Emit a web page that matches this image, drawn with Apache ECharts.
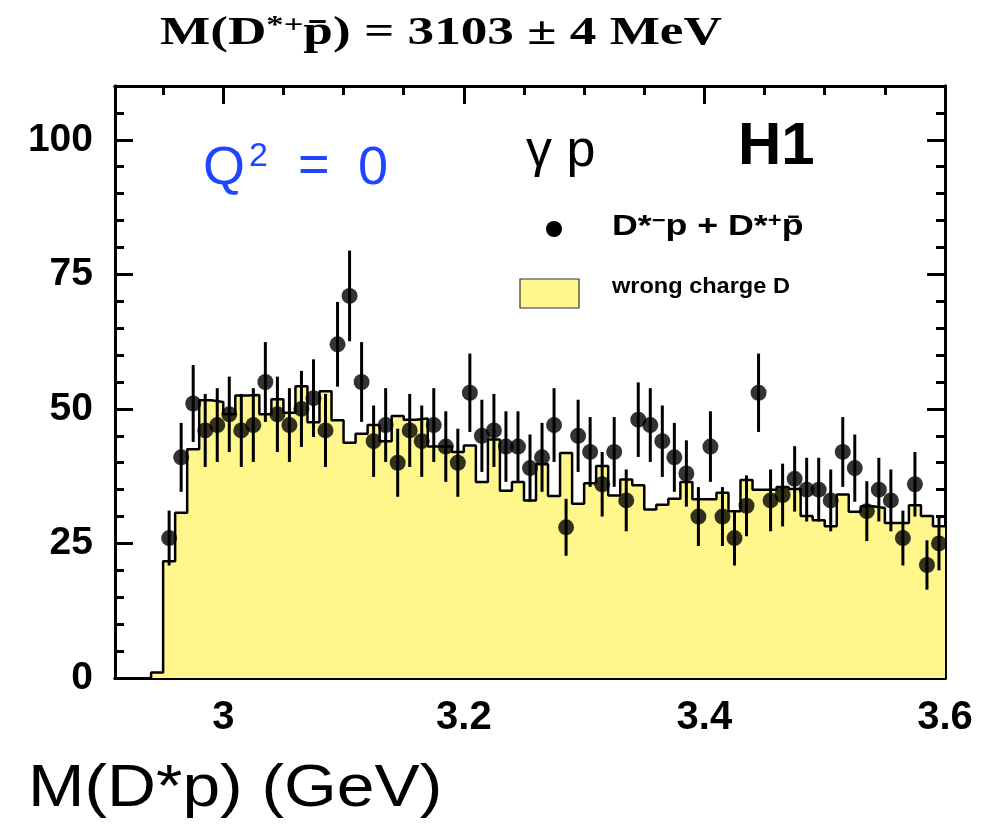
<!DOCTYPE html>
<html>
<head>
<meta charset="utf-8">
<script src="https://cdn.jsdelivr.net/npm/echarts@6/dist/echarts.min.js"></script>
<style>
  html, body { margin: 0; padding: 0; background: #ffffff; }
  #chart { width: 981px; height: 828px; }
</style>
</head>
<body>
<div id="chart"></div>
<script>
// Binning (GeV): 10 MeV bins
const BIN_WIDTH = 0.01;
const SIGNAL_FIRST_LOW_EDGE = 2.95;
const BKG_FIRST_LOW_EDGE = 2.94;

// D*-p + D*+pbar candidates per bin
const signalCounts = [
  26, 41, 51, 46, 47, 49, 46, 47, 55, 49,
  47, 50, 52, 46, 62, 71, 55, 44, 47, 40,
  46, 44, 47, 43, 40, 53, 45, 46, 43, 43,
  39, 41, 47, 28, 45, 42, 36, 42, 33, 48,
  47, 44, 41, 38, 30, 43, 30, 26, 32, 53,
  33, 34, 37, 35, 35, 33, 42, 39, 31, 35,
  33, 26, 36, 21, 25
];

// wrong charge D combinations (normalised), per bin
const wrongChargeCounts = [
  1.0,
  21.7, 30.7, 42.5, 51.6, 51.3,
  49.0, 52.5, 52.6, 49.0, 51.8,
  49.3, 54.2, 47.5, 53.3, 47.9,
  43.7, 45.4, 47.0, 44.0, 48.7,
  48.0, 48.2, 43.0, 43.0, 42.0,
  43.2, 36.4, 44.3, 34.8, 36.4,
  33.0, 39.7, 33.8, 41.8, 32.4,
  36.2, 39.4, 33.9, 36.9, 35.8,
  31.3, 32.2, 33.3, 36.4, 33.2,
  33.2, 34.4, 31.0, 36.8, 35.0,
  35.0, 35.5, 35.1, 30.1, 29.3,
  28.2, 34.1, 30.9, 31.9, 31.6,
  28.8, 28.8, 32.1, 30.1, 28.2
];

// Axis ranges and tick positions
const X_MIN = 2.91, X_MAX = 3.6;
const Y_MIN = 0, Y_MAX = 110;
const xMajorTicks = [3.0, 3.2, 3.4, 3.6];
const xMinorTicks = [2.95, 3.05, 3.1, 3.15, 3.25, 3.3, 3.35, 3.45, 3.5, 3.55];
const yMajorTicks = [0, 25, 50, 75, 100];
const yMinorTicks = [5, 10, 15, 20, 30, 35, 40, 45, 55, 60, 65, 70, 80, 85, 90, 95, 105];

const YELLOW = '#fff68c';
const BLUE = '#1f45ff';

// Histogram outline points (low edge of each bin, then the closing upper edge)
const round3 = v => Math.round(v * 1000) / 1000;
const histPoints = [[BKG_FIRST_LOW_EDGE, 0]];
wrongChargeCounts.forEach((v, i) => histPoints.push([round3(BKG_FIRST_LOW_EDGE + i * BIN_WIDTH), v]));
histPoints.push([round3(BKG_FIRST_LOW_EDGE + wrongChargeCounts.length * BIN_WIDTH),
                 wrongChargeCounts[wrongChargeCounts.length - 1]]);

// Data points at bin centres with Poisson errors
const signalPoints = signalCounts.map((n, i) => [
  round3(SIGNAL_FIRST_LOW_EDGE + (i + 0.5) * BIN_WIDTH), n, Math.sqrt(n)
]);

const tickStyle = { color: '#000', width: 3 };

function makeAxis(kind, position, ticks, len, labels) {
  const isX = kind === 'x';
  return {
    type: 'value', position: position,
    min: isX ? X_MIN : Y_MIN, max: isX ? X_MAX : Y_MAX,
    axisLine: { show: true, onZero: false, lineStyle: { color: '#000', width: 3 } },
    axisTick: { show: true, inside: true, length: len, customValues: ticks, lineStyle: tickStyle },
    axisLabel: labels ? {
      show: true, customValues: ticks, margin: isX ? 20 : 22,
      showMinLabel: true, showMaxLabel: true,
      fontFamily: 'Liberation Sans', fontWeight: 'bold', fontSize: isX ? 40 : 39, color: '#000'
    } : { show: false },
    splitLine: { show: false }
  };
}

const chart = echarts.init(document.getElementById('chart'), null, { renderer: 'canvas' });

const option = {
  animation: false,
  backgroundColor: '#ffffff',
  grid: { left: 115, right: 36, top: 86, bottom: 150 },
  xAxis: [
    makeAxis('x', 'bottom', xMajorTicks, 18, true),
    makeAxis('x', 'bottom', xMinorTicks, 9, false),
    makeAxis('x', 'top', xMajorTicks, 18, false),
    makeAxis('x', 'top', xMinorTicks, 9, false)
  ],
  yAxis: [
    makeAxis('y', 'left', yMajorTicks, 18, true),
    makeAxis('y', 'left', yMinorTicks, 9, false),
    makeAxis('y', 'right', yMajorTicks, 18, false),
    makeAxis('y', 'right', yMinorTicks, 9, false)
  ],
  series: [
    {
      name: 'wrong charge D',
      type: 'line',
      step: 'end',
      data: histPoints,
      symbol: 'none',
      lineStyle: { color: '#000', width: 2.5 },
      areaStyle: { color: YELLOW, opacity: 1 },
      z: 1
    },
    {
      name: 'errors',
      type: 'custom',
      data: signalPoints,
      encode: { x: 0, y: 1 },
      renderItem: function (params, api) {
        const x = api.value(0), y = api.value(1), e = api.value(2);
        const lo = api.coord([x, y - e]);
        const hi = api.coord([x, y + e]);
        return {
          type: 'line',
          shape: { x1: lo[0], y1: lo[1], x2: hi[0], y2: hi[1] },
          style: { stroke: '#000', lineWidth: 3 }
        };
      },
      z: 3
    },
    {
      name: 'D*p',
      type: 'scatter',
      data: signalPoints,
      symbol: 'circle',
      symbolSize: 16,
      itemStyle: { color: '#000' },
      z: 4
    }
  ],
  graphic: [
    {
      type: 'text', x: 160, y: 13, scaleX: 1.33,
      style: {
        text: '{t|M(D}{s|*+}{t|p\u0304) = 3103 ± 4 MeV}',
        rich: {
          t: { fontFamily: 'Liberation Serif', fontWeight: 'bold', fontSize: 40, fill: '#000' },
          s: { fontFamily: 'Liberation Serif', fontWeight: 'bold', fontSize: 26, fill: '#000', verticalAlign: 'top', padding: [0, 0, 16, 0] }
        }
      }
    },
    {
      type: 'text', x: 203, y: 196,
      style: { text: 'Q', fontFamily: 'Liberation Sans', fontSize: 54, fill: BLUE, textVerticalAlign: 'bottom' }
    },
    {
      type: 'text', x: 249, y: 174,
      style: { text: '2', fontFamily: 'Liberation Sans', fontSize: 34, fill: BLUE, textVerticalAlign: 'bottom' }
    },
    {
      type: 'text', x: 298, y: 194,
      style: { text: '=', fontFamily: 'Liberation Sans', fontSize: 54, fill: BLUE, textVerticalAlign: 'bottom' }
    },
    {
      type: 'text', x: 358, y: 196,
      style: { text: '0', fontFamily: 'Liberation Sans', fontSize: 54, fill: BLUE, textVerticalAlign: 'bottom' }
    },
    {
      type: 'text', x: 526, y: 178,
      style: { text: '\u03b3 p', fontFamily: 'Liberation Sans', fontSize: 52, fill: '#000', textVerticalAlign: 'bottom' }
    },
    {
      type: 'text', x: 738, y: 177,
      style: { text: 'H1', fontFamily: 'Liberation Sans', fontWeight: 'bold', fontSize: 60, fill: '#000', textVerticalAlign: 'bottom' }
    },
    {
      type: 'circle', shape: { cx: 554, cy: 229, r: 8 }, style: { fill: '#000' }
    },
    {
      type: 'text', x: 612, y: 243, scaleX: 1.19,
      style: {
        text: '{t|D*}{s|\u2212}{t|p + D*}{s|+}{t|p\u0304}',
        textVerticalAlign: 'bottom',
        rich: {
          t: { fontFamily: 'Liberation Sans', fontWeight: 'bold', fontSize: 30, fill: '#000' },
          s: { fontFamily: 'Liberation Sans', fontWeight: 'bold', fontSize: 20, fill: '#000', verticalAlign: 'top', padding: [0, 0, 12, 0] }
        }
      }
    },
    {
      type: 'rect', shape: { x: 520, y: 279, width: 59, height: 29 },
      style: { fill: YELLOW, stroke: '#333', lineWidth: 1.2 }
    },
    {
      type: 'text', x: 612, y: 298, scaleX: 1.07,
      style: { text: 'wrong charge D', fontFamily: 'Liberation Sans', fontWeight: 'bold', fontSize: 22, fill: '#000', textVerticalAlign: 'bottom' }
    },
    {
      type: 'text', x: 28, y: 819, scaleX: 1.13,
      style: { text: 'M(D*p) (GeV)', fontFamily: 'Liberation Sans', fontSize: 60, fill: '#000', textVerticalAlign: 'bottom' }
    }
  ]
};

chart.setOption(option);
</script>
</body>
</html>
